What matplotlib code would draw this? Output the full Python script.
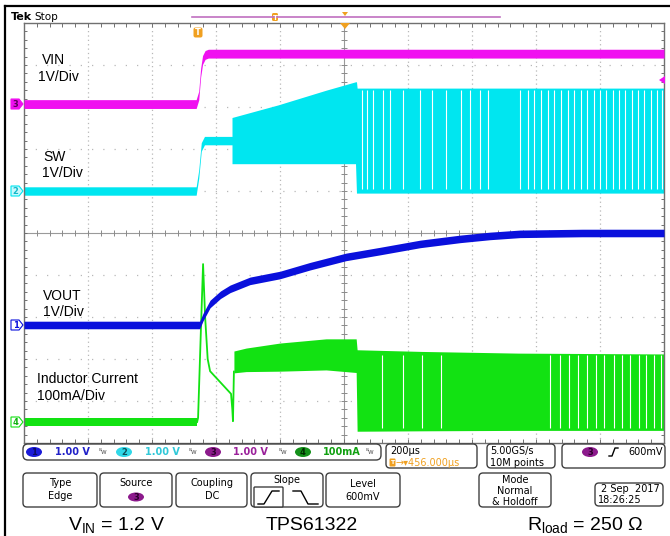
import matplotlib
matplotlib.use("Agg")
import matplotlib.pyplot as plt
from matplotlib.patches import FancyBboxPatch, Polygon, Ellipse

plt.rcParams['mathtext.fontset'] = 'custom'
plt.rcParams['mathtext.rm'] = 'Liberation Sans'
plt.rcParams['mathtext.it'] = 'Liberation Sans'

# ---------------- scope settings ----------------
T_DIV = 200          # us / div
T_CENTER = 456       # horizontal delay (us)
CH_OFFSET = {1: -2.19, 2: 1.0, 3: 3.07, 4: -4.5}   # ground marker (div)
CH_SCALE = {1: 1.0, 2: 1.0, 3: 1.0, 4: 100.0}     # units / div

C_VIN = '#f010f0'
C_SW = '#00e6f0'
C_VOUT = '#0a10dc'
C_IL = '#12e212'

# ---------------- data ----------------
# VIN (ch3), volts
vin_t = [-544, -6, 2, 8, 14, 22, 32, 1456]
vin_v = [0.0, 0.0, 0.2, 0.75, 1.05, 1.17, 1.2, 1.2]

# SW (ch2) envelope, volts
sw_t  = [-544, -6, 2, 10, 20, 106, 106, 250, 400, 492, 495, 497, 1456]
sw_lo = [-0.1, -0.1, 0.3, 0.95, 1.1, 1.1, 0.65, 0.65, 0.65, 0.65, -0.05, -0.05, -0.05]
sw_hi = [0.1, 0.1, 0.5, 1.15, 1.3, 1.3, 1.75, 2.05, 2.4, 2.6, 2.6, 2.45, 2.45]
sw_gap_t = [512, 528, 547, 578, 600, 640, 694, 731, 775, 822, 850, 880, 906,
            1006, 1031, 1050, 1072, 1094, 1112, 1135, 1156, 1175, 1197, 1216,
            1238, 1256, 1275, 1297, 1316, 1335, 1356, 1375, 1394, 1416, 1434, 1450]

# VOUT (ch1), volts
vout_t = [-544, 5, 15.6, 37.5, 70, 100, 162, 256, 350, 462, 569, 694, 819, 912, 1006, 1200, 1456]
vout_v = [0.0, 0.0, 0.19, 0.5, 0.72, 0.86, 1.05, 1.19, 1.4, 1.62, 1.76, 1.93, 2.05, 2.12, 2.17, 2.19, 2.19]

# Inductor current (ch4), mA
il_base_t = [-544, -3]
il_spike_t = [-3, 0, 8, 15.6, 22, 30, 37.5, 103, 107, 109, 112]
il_spike_i = [0, 10, 200, 376, 250, 150, 121, 67, 30, 2, 120]
il_t  = [112, 150, 256, 400, 492, 494, 497, 700, 1000, 1456]
il_lo = [117, 120, 121, 124, 118, 118, -22, -21, -20, -20]
il_hi = [169, 176, 188, 198, 198, 198, 172, 168, 164, 162]
il_gap_t = [575, 640, 700, 760, 1100, 1131, 1160, 1188, 1216, 1244, 1270, 1300,
            1325, 1350, 1378, 1400, 1425, 1447]


def to_div(ch, vals):
    return [CH_OFFSET[ch] + v / CH_SCALE[ch] for v in vals]


W, H = 670, 536
fig = plt.figure(figsize=(W / 100, H / 100), dpi=100)
fig.patch.set_facecolor('white')

L, R, TOP, BOT = 24, 664, 23, 443
ax = fig.add_axes([L / W, 1 - BOT / H, (R - L) / W, (BOT - TOP) / H])
ax.set_xlim(T_CENTER - 5 * T_DIV, T_CENTER + 5 * T_DIV)
ax.set_ylim(-5, 5)
ax.set_xticks([]); ax.set_yticks([])
for s in ax.spines.values():
    s.set_color('#707070'); s.set_linewidth(1.0)

# graticule
grid_c = '#b8b8b8'
for k in range(-4, 5):
    if k == 0:
        continue
    ax.axvline(T_CENTER + k * T_DIV, color=grid_c, lw=0.9, ls=(0, (1, 2.5)), zorder=0)
    ax.axhline(k, color=grid_c, lw=0.9, ls=(0, (1, 8)), zorder=0)
ax.axvline(T_CENTER, color='#9a9a9a', lw=0.8, zorder=0)
ax.axhline(0, color='#9a9a9a', lw=0.8, zorder=0)
xt = [T_CENTER + (i / 5) * T_DIV for i in range(-25, 26)]
yt = [i / 5 for i in range(-25, 26)]
ax.vlines(xt, -0.07, 0.07, color='#8a8a8a', lw=0.7, zorder=0)
ax.vlines(xt, -5, -4.9, color='#707070', lw=0.7, zorder=0)
ax.vlines(xt, 4.9, 5, color='#707070', lw=0.7, zorder=0)
dx = 0.045 * T_DIV
ax.hlines(yt, T_CENTER - dx, T_CENTER + dx, color='#8a8a8a', lw=0.7, zorder=0)
ax.hlines(yt, T_CENTER - 5 * T_DIV, T_CENTER - 5 * T_DIV + dx, color='#707070', lw=0.7, zorder=0)
ax.hlines(yt, T_CENTER + 5 * T_DIV - dx, T_CENTER + 5 * T_DIV, color='#707070', lw=0.7, zorder=0)

HB = 0.105  # half band of trace noise (div)

# VIN
y = to_div(3, vin_v)
ax.fill_between(vin_t, [v - HB for v in y], [v + HB for v in y], color=C_VIN, lw=0, zorder=3)

# SW
ax.fill_between(sw_t, to_div(2, sw_lo), to_div(2, sw_hi), color=C_SW, lw=0, zorder=2)
ax.vlines(sw_gap_t, CH_OFFSET[2] + 0.05, CH_OFFSET[2] + 2.4, color='white', lw=0.8, zorder=2.5)

# VOUT
y = to_div(1, vout_v)
ax.fill_between(vout_t, [v - 0.09 for v in y], [v + 0.09 for v in y], color=C_VOUT, lw=0, zorder=3)

# Inductor current
yb = to_div(4, [0, 0])
ax.fill_between(il_base_t, [v - 0.1 for v in yb], [v + 0.1 for v in yb], color=C_IL, lw=0, zorder=2)
ax.plot(il_spike_t, to_div(4, il_spike_i), color=C_IL, lw=1.3, zorder=2)
ax.fill_between(il_t, to_div(4, il_lo), to_div(4, il_hi), color=C_IL, lw=0, zorder=2)
ax.vlines(il_gap_t, CH_OFFSET[4] - 0.15, CH_OFFSET[4] + 1.6, color='white', lw=0.8, zorder=2.5)

# ---------------- overlay in pixel coords ----------------
ov = fig.add_axes([0, 0, 1, 1], facecolor='none')
ov.set_xlim(0, W); ov.set_ylim(H, 0); ov.axis('off')

ov.plot([5, 5], [6, H], color='black', lw=1.6)
ov.plot([5, W], [6, 6], color='black', lw=1.6)

ov.text(11, 17, 'Tek', fontsize=8, fontweight='bold', family='DejaVu Sans Condensed', va='center', ha='left')
ov.text(34, 17, 'Stop', fontsize=7.5, family='DejaVu Sans', va='center', ha='left')

# top record bar
ov.plot([192, 500], [17, 17], color='#c070c0', lw=1.2)
ov.add_patch(FancyBboxPatch((272, 13), 6, 8, boxstyle='round,pad=0,rounding_size=1.5', fc='#f0a020', ec='none'))
ov.text(275, 17.5, 'T', fontsize=5, color='white', ha='center', va='center', fontweight='bold')
ov.add_patch(Polygon([[342, 12], [348, 12], [345, 16]], closed=True, fc='#f0a020', ec='none'))
ov.add_patch(Polygon([[340, 23], [350, 23], [345, 29]], closed=True, fc='#f0a020', ec='none'))
# trigger T badge
ov.add_patch(FancyBboxPatch((193.5, 27.5), 9, 10, boxstyle='round,pad=0,rounding_size=2', fc='#f0a020', ec='none'))
ov.text(198, 32.8, 'T', fontsize=6, color='white', ha='center', va='center', fontweight='bold')
# trigger level arrow
ov.add_patch(Polygon([[659, 80], [665, 76], [665, 84]], closed=True, fc=C_VIN, ec='none'))

# channel markers
def marker(y, label, fc, tc, ec):
    ov.add_patch(Polygon([[11, y - 5], [19, y - 5], [23, y], [19, y + 5], [11, y + 5]], closed=True,
                         fc=fc, ec=ec, lw=0.8))
    ov.text(15.5, y + 0.5, label, fontsize=6, color=tc, ha='center', va='center', fontweight='bold')

marker(104, '3', C_VIN, '#5a005a', C_VIN)
marker(191, '2', '#c8f8fc', '#10b8c8', C_SW)
marker(325, '1', 'white', C_VOUT, C_VOUT)
marker(422, '4', 'white', '#10b010', C_IL)

# trace labels
lab = dict(fontsize=10, family='Liberation Sans', color='black', ha='left', va='center')
ov.text(42, 60, 'VIN', **lab)
ov.text(38, 77, '1V/Div', **lab)
ov.text(43, 157, 'SW', **lab)
ov.text(42, 173, '1V/Div', **lab)
ov.text(43, 296, 'VOUT', **lab)
ov.text(43, 312, '1V/Div', **lab)
ov.text(37, 379, 'Inductor Current', **lab)
ov.text(37, 396, '100mA/Div', **lab)

# ---------------- status bar ----------------
def rbox(x0, y0, x1, y1, r=4):
    ov.add_patch(FancyBboxPatch((x0, y0), x1 - x0, y1 - y0,
                                boxstyle=f'round,pad=0,rounding_size={r}',
                                fc='white', ec='#404040', lw=1.0))

def badge(x, y, label, fc, tc='black', w=16, h=10):
    ov.add_patch(Ellipse((x, y), w, h, fc=fc, ec='none'))
    ov.text(x, y + 0.3, label, fontsize=6, color=tc, ha='center', va='center', fontweight='bold')

st = dict(fontsize=7, family='DejaVu Sans', ha='left', va='center', fontweight='bold')
sn = dict(fontsize=7, family='DejaVu Sans', ha='left', va='center')
rbox(23, 444, 381, 460, r=5)
badge(34, 452, '1', '#1a1ad8', '#0a0a60')
ov.text(55, 452, '1.00 V', color='#2020c8', **st)
ov.text(103, 452, 'ᴮw', fontsize=5, color='#606060', ha='center', va='center')
badge(124, 452, '2', '#30d8e8', '#10505a')
ov.text(145, 452, '1.00 V', color='#30c8d8', **st)
ov.text(193, 452, 'ᴮw', fontsize=5, color='#606060', ha='center', va='center')
badge(213, 452, '3', '#8c1a8c', '#2a002a')
ov.text(233, 452, '1.00 V', color='#9a209a', **st)
ov.text(283, 452, 'ᴮw', fontsize=5, color='#606060', ha='center', va='center')
badge(303, 452, '4', '#14901a', '#002a00')
ov.text(323, 452, '100mA', color='#10a010', **st)
ov.text(370, 452, 'ᴮw', fontsize=5, color='#606060', ha='center', va='center')

rbox(386, 444, 477, 468)
ov.text(390, 451, '200µs', color='black', **sn)
ov.add_patch(FancyBboxPatch((389.5, 458.5), 6, 8, boxstyle='round,pad=0,rounding_size=1', fc='#f0a020', ec='none'))
ov.text(392.5, 462.8, 'T', fontsize=4.5, color='white', ha='center', va='center', fontweight='bold')
ov.text(396, 463, '→▾456.000µs', color='#f0a020', **sn)

rbox(487, 444, 555, 468)
ov.text(490, 451, '5.00GS/s', color='black', **sn)
ov.text(490, 463, '10M points', color='black', **sn)

rbox(562, 444, 665, 468)
badge(590, 452, '3', '#8c1a8c', '#2a002a')
ov.plot([609, 612, 615, 618], [456, 456, 448, 448], color='black', lw=1.0)
ov.text(628, 452, '600mV', color='black', **sn)

ct = dict(fontsize=7, family='DejaVu Sans', ha='center', va='center', color='black')
rbox(23, 473, 97, 507)
ov.text(60, 483, 'Type', **ct); ov.text(60, 496, 'Edge', **ct)
rbox(100, 473, 172, 507)
ov.text(136, 483, 'Source', **ct); badge(136, 497, '3', '#8c1a8c', '#2a002a', w=16, h=9)
rbox(176, 473, 247, 507)
ov.text(212, 483, 'Coupling', **ct); ov.text(212, 496, 'DC', **ct)
rbox(251, 473, 323, 507)
ov.text(287, 480, 'Slope', **ct)
ov.add_patch(FancyBboxPatch((254, 487), 29, 20, boxstyle='round,pad=0,rounding_size=1', fc='white', ec='#404040', lw=1.0))
ov.plot([258, 264, 272, 279], [504, 504, 491, 491], color='black', lw=1.0)
ov.plot([293, 301, 308, 318], [491, 491, 504, 504], color='black', lw=1.0)
rbox(326, 473, 400, 507)
ov.text(363, 484, 'Level', **ct); ov.text(363, 497, '600mV', **ct)
rbox(479, 473, 551, 507)
ov.text(515, 480, 'Mode', **ct); ov.text(515, 491, 'Normal', **ct); ov.text(515, 502, '& Holdoff', **ct)
rbox(595, 483, 663, 506)
ov.text(660, 489, '2 Sep  2017', fontsize=7, family='DejaVu Sans', ha='right', va='center')
ov.text(598, 500, '18:26:25', fontsize=7, family='DejaVu Sans', ha='left', va='center')

# bottom captions
cap = dict(fontsize=14, family='Liberation Sans', color='black', va='baseline')
ov.text(68, 530, r'V$_{\mathrm{IN}}$ = 1.2 V', ha='left', **cap)
ov.text(312, 530, 'TPS61322', ha='center', **cap)
ov.text(527, 530, r'R$_{\mathrm{load}}$ = 250 Ω', ha='left', **cap)

fig.savefig('out.png', dpi=100, facecolor='white')
